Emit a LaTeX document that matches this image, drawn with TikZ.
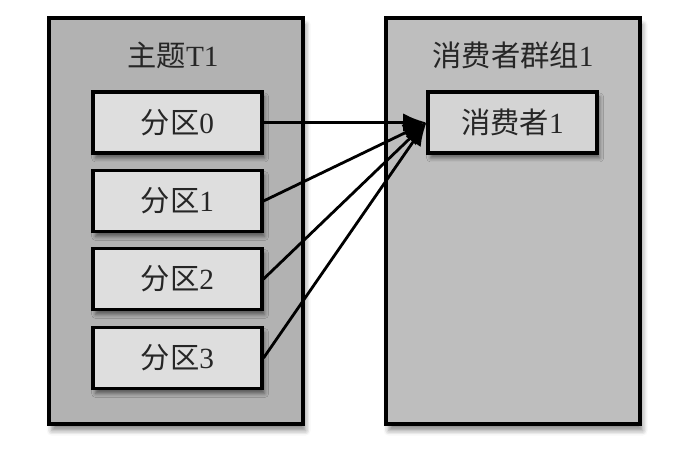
\documentclass[tikz,border=0pt]{standalone}
\usepackage{fontspec}
\setmainfont{Liberation Serif}
\newfontfamily\cjk{Noto Sans CJK SC}
\usetikzlibrary{arrows.meta,shadows.blur}

\begin{document}
\begin{tikzpicture}[
  group/.style={draw=black,line width=2.6pt,minimum width=7.62cm,minimum height=12.18cm,
    blur shadow={shadow xshift=0.08cm,shadow yshift=-0.2cm,shadow blur radius=0.15cm,shadow opacity=45}},
  part/.style={draw=black,line width=2.6pt,fill=gray!26,minimum width=5.07cm,minimum height=1.83cm,
    font=\fontsize{25}{29}\selectfont,text=black!85,
    blur shadow={shadow xshift=0.08cm,shadow yshift=-0.15cm,shadow blur radius=0.12cm,shadow opacity=50}},
  title/.style={font=\fontsize{25}{29}\selectfont,text=black!85},
  link/.style={line width=2.4pt,-{Latex[length=7mm,width=5.5mm]}}]
\useasboundingbox (0,0) rectangle (20.64,13.62);
\node[group,fill=gray!60] (topic) at (5.28,6.99) {};
\node[group,fill=gray!51] (cgroup) at (15.39,6.99) {};
\node[title] (topictitle) at (5.19,11.97) {{\cjk 主题}T1};
\node[title] (grouptitle) at (15.39,11.97) {{\cjk 消费者群组}1};
\foreach \i/\y in {0/9.945,1/7.59,2/5.25,3/2.88}
  \node[part] (p\i) at (5.325,\y) {{\cjk 分区}\i};
\node[part,fill=gray!34] (consumer) at (15.375,9.945) {{\cjk 消费者}1};
\foreach \i in {0,...,3}
  \draw[link] (p\i.east) -- (consumer.west);
\end{tikzpicture}
\end{document}
